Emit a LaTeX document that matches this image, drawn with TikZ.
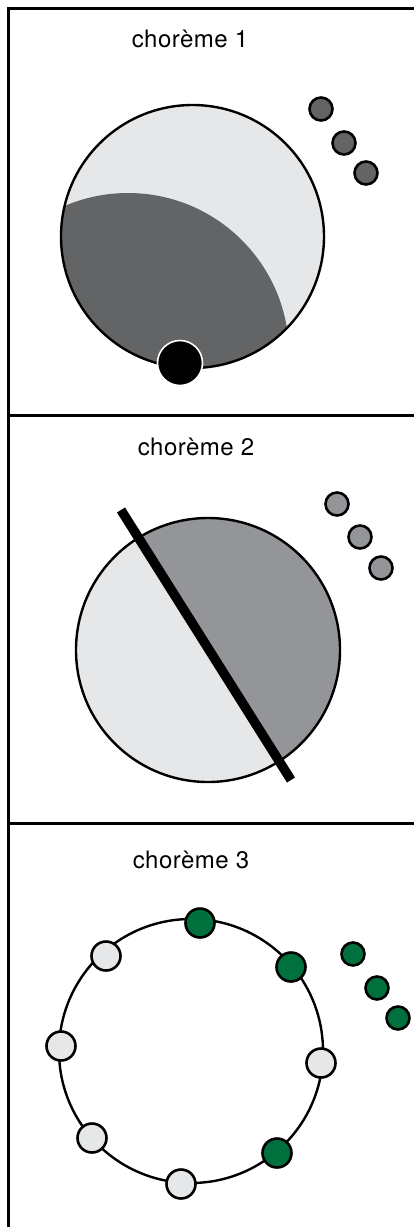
\documentclass[tikz,border=0pt]{standalone}
\usepackage{fontspec}
\setmainfont{TeX Gyre Heros}
\definecolor{dgray}{RGB}{99,100,102}
\definecolor{lgray}{RGB}{230,231,232}
\definecolor{mgray}{RGB}{147,149,152}
\definecolor{dgreen}{RGB}{0,112,60}
\begin{document}
\begin{tikzpicture}[x=1pt,y=-1pt,
  frame/.style={line width=3pt},
  title/.style={font=\fontsize{24}{28}\selectfont\addfontfeature{LetterSpace=2}, inner sep=0pt},
  smalldot/.style={circle, draw=black, line width=2.6pt, minimum size=23pt, inner sep=0pt},
  ringdot/.style={circle, draw=black, line width=2.6pt, minimum size=29pt, inner sep=0pt, fill=lgray},
  outline/.style={line width=2.4pt}]
\useasboundingbox (0,0) rectangle (414,1227);
\fill[white] (0,0) rectangle (414,1227);
% frame
\coordinate (tl) at (8,8);
\coordinate (tr) at (414,8);
\coordinate (bl) at (8,1227);
\coordinate (l1) at (8,415);
\coordinate (r1) at (414,415);
\coordinate (l2) at (8,823);
\coordinate (r2) at (414,823);
\draw[frame] (tr) -- (tl) -- (bl);
\draw[frame] (l1) -- (r1);
\draw[frame] (l2) -- (r2);

% ---------- panel 1 ----------
\node[title] (t1) at (190,39) {chorème 1};
\begin{scope}
  \clip (192.5,236.5) circle (131.5pt);
  \fill[lgray] (192.5,236.5) circle (131.5pt);
  \fill[dgray] (128,354) circle (161pt);
\end{scope}
\draw[outline] (192.5,236.5) circle (131.5pt);
\node[circle, fill=black, draw=white, line width=1.6pt, minimum size=45pt, inner sep=0pt] (b1) at (180,363) {};
\node[smalldot, fill=dgray] (a1) at (321,109) {};
\node[smalldot, fill=dgray] (a2) at (344,143) {};
\node[smalldot, fill=dgray] (a3) at (366,173) {};

% ---------- panel 2 ----------
\node[title] (t2) at (196,447) {chorème 2};
\begin{scope}
  \clip (208,650) circle (132pt);
  \fill[lgray] (208,650) circle (132pt);
  \fill[mgray] (-49,240) -- (461,1050) -- (461,240) -- cycle;
\end{scope}
\draw[outline] (208,650) circle (132pt);
\coordinate (s1) at (121,510);
\coordinate (s2) at (291,780);
\draw[line width=9.5pt] (s1) -- (s2);
\node[smalldot, fill=mgray] (c1) at (337,504) {};
\node[smalldot, fill=mgray] (c2) at (360,537) {};
\node[smalldot, fill=mgray] (c3) at (381,568) {};

% ---------- panel 3 ----------
\node[title] (t3) at (191,860) {chorème 3};
\draw[outline] (191,1051) circle (132pt);
\node[ringdot, fill=dgreen] (r1g) at (200,923) {};
\node[ringdot, fill=dgreen] (r2g) at (291,967) {};
\node[ringdot] (r3) at (106,956) {};
\node[ringdot] (r4) at (61,1046) {};
\node[ringdot] (r5) at (321,1063) {};
\node[ringdot] (r6) at (92,1138) {};
\node[ringdot] (r7) at (181,1184) {};
\node[ringdot, fill=dgreen] (r8g) at (277,1153) {};
\node[smalldot, fill=dgreen] (g1) at (353,954) {};
\node[smalldot, fill=dgreen] (g2) at (377,988) {};
\node[smalldot, fill=dgreen] (g3) at (398,1018) {};
\end{tikzpicture}
\end{document}
